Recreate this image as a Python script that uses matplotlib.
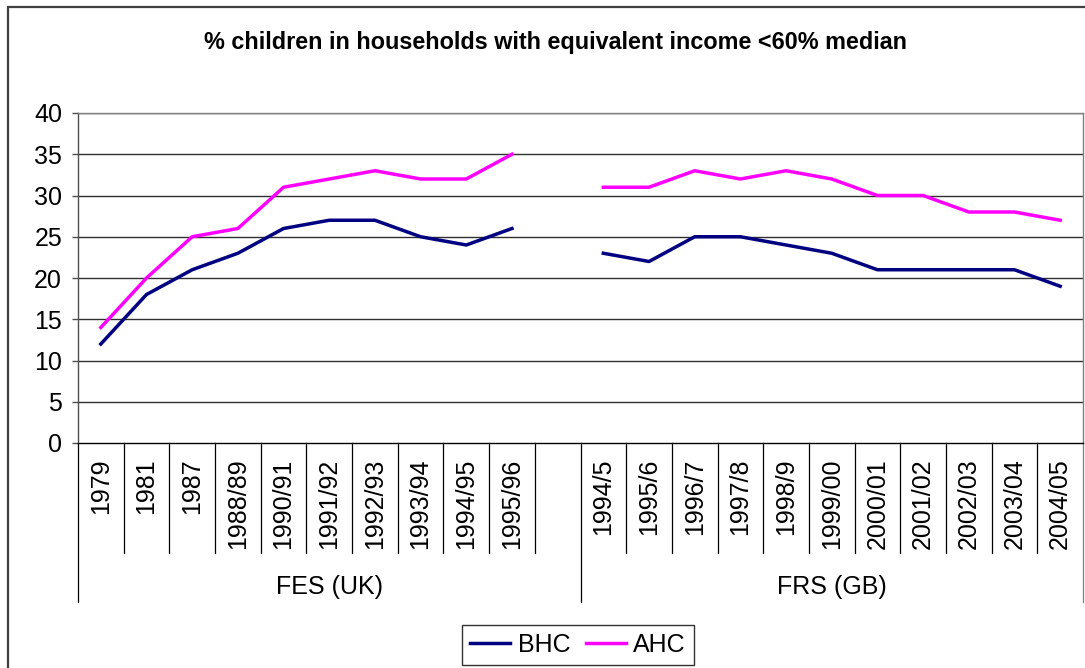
import numpy as np
import matplotlib
matplotlib.use("Agg")
import matplotlib.pyplot as plt
from matplotlib.patches import Rectangle
import matplotlib.transforms as mtrans

plt.rcParams['font.family'] = ['Liberation Sans', 'DejaVu Sans']

# ---- data ----
title = "% children in households with equivalent income <60% median"
fes_labels = ["1979", "1981", "1987", "1988/89", "1990/91", "1991/92",
              "1992/93", "1993/94", "1994/95", "1995/96"]
frs_labels = ["1994/5", "1995/6", "1996/7", "1997/8", "1998/9", "1999/00",
              "2000/01", "2001/02", "2002/03", "2003/04", "2004/05"]
bhc_fes = [12, 18, 21, 23, 26, 27, 27, 25, 24, 26]
ahc_fes = [14, 20, 25, 26, 31, 32, 33, 32, 32, 35]
bhc_frs = [23, 22, 25, 25, 24, 23, 21, 21, 21, 21, 19]
ahc_frs = [31, 31, 33, 32, 33, 32, 30, 30, 28, 28, 27]
group_names = ["FES (UK)", "FRS (GB)"]
y_ticks = [0, 5, 10, 15, 20, 25, 30, 35, 40]

# categories: FES + one blank + FRS
labels = fes_labels + [""] + frs_labels
n = len(labels)
x = np.arange(n)
bhc = np.array(bhc_fes + [np.nan] + bhc_frs, dtype=float)
ahc = np.array(ahc_fes + [np.nan] + ahc_frs, dtype=float)

W, H = 1085, 668
fig = plt.figure(figsize=(W / 100, H / 100), dpi=100)
fig.patch.set_facecolor("white")

# outer chart border
fig.patches.append(Rectangle((8 / W, -0.05), 1.1, 1 - 7 / H + 0.05,
                             transform=fig.transFigure, fill=False,
                             edgecolor="#404040", linewidth=1.6))

left, right, top, bottom = 78, 1083, 113, 443
ax = fig.add_axes([left / W, 1 - bottom / H, (right - left) / W, (bottom - top) / H])

ax.set_xlim(-0.5, n - 0.5)
ax.set_ylim(0, 40)
ax.set_yticks(y_ticks)
for yv in y_ticks[1:]:
    ax.axhline(yv, color="#303030", linewidth=1.0, zorder=1)

ax.plot(x, bhc, color="#000080", linewidth=2.5, zorder=3, label="BHC")
ax.plot(x, ahc, color="#FF00FF", linewidth=2.5, zorder=3, label="AHC")

for s in ["top", "right"]:
    ax.spines[s].set_color("#808080")
    ax.spines[s].set_linewidth(1.0)
ax.spines["left"].set_color("#505050")
ax.spines["left"].set_linewidth(1.0)
ax.spines["bottom"].set_color("black")
ax.spines["bottom"].set_linewidth(1.0)

ax.tick_params(axis="y", direction="out", length=4.5, width=1.0, color="#505050",
               labelsize=18, pad=7)
ax.set_xticks(x)
ax.set_xticklabels(labels, rotation=90, fontsize=18, va="top")
ax.tick_params(axis="x", length=0, pad=11)

# category separators and group separators below axis
trans = mtrans.blended_transform_factory(ax.transData, ax.transAxes)
h_px = bottom - top
cat_end = -(553 - bottom) / h_px
grp_end = -(602 - bottom) / h_px
n_fes = len(fes_labels) + 1
group_bounds = [-0.5, n_fes - 0.5, n - 0.5]
for k in range(n + 1):
    xb = k - 0.5
    yend = grp_end if xb in group_bounds else cat_end
    ax.plot([xb, xb], [0, yend], transform=trans,
            color="#808080" if xb == group_bounds[-1] else "black",
            linewidth=0.9, clip_on=False, zorder=2)

group_y = -(587 - bottom) / h_px
ax.text((group_bounds[0] + group_bounds[1]) / 2, group_y, group_names[0], transform=trans,
        ha="center", va="center", fontsize=18)
ax.text((group_bounds[1] + group_bounds[2]) / 2, group_y, group_names[1], transform=trans,
        ha="center", va="center", fontsize=18)

fig.text(555 / W, 1 - 42 / H, title, ha="center", va="center", fontsize=16.8,
         fontweight="bold", family=["Liberation Sans Narrow", "Liberation Sans"])

leg = fig.legend(loc="center", bbox_to_anchor=(578 / W, 1 - 645 / H), ncol=2,
                 fontsize=18, frameon=True, fancybox=False, handlelength=1.6,
                 handletextpad=0.3, columnspacing=0.6, borderpad=0.32)
leg.get_frame().set_edgecolor("black")
leg.get_frame().set_linewidth(1.0)

fig.savefig("out.png", dpi=100)
